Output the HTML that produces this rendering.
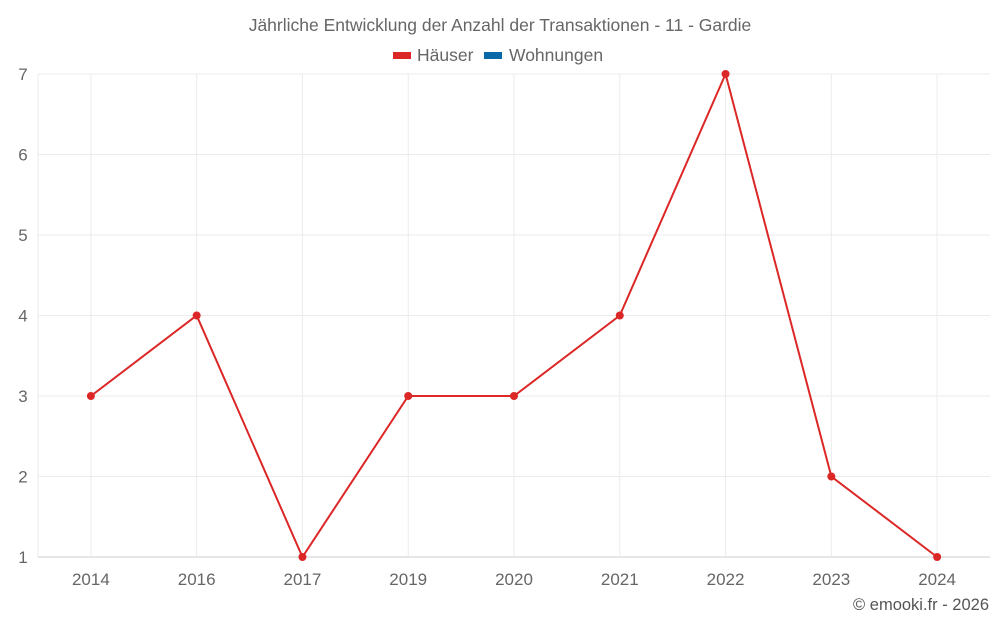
<!DOCTYPE html>
<html><head><meta charset="utf-8"><style>
body{margin:0;background:#fff;font-family:"Liberation Sans",sans-serif;}
svg text{font-family:"Liberation Sans",sans-serif;}
</style></head><body>
<svg width="1000" height="625" id="c">
<text x="500" y="31" text-anchor="middle" font-size="17.5" fill="#666">Jährliche Entwicklung der Anzahl der Transaktionen - 11 - Gardie</text>
<g><rect x="393" y="52" width="18" height="7" fill="#dc2727"/><text x="417" y="61" font-size="17.5" fill="#666">Häuser</text></g>
<g><rect x="484" y="52" width="18" height="7" fill="#0868a8"/><text x="509" y="61" font-size="17.5" fill="#666">Wohnungen</text></g>
<g id="grid"></g><g id="series"></g>
<text x="989" y="610" text-anchor="end" font-size="16.5" fill="#555">© emooki.fr - 2026</text>
</svg>
<script>
const categories=["2014","2016","2017","2019","2020","2021","2022","2023","2024"];
const haeuser=[3,4,1,3,3,4,7,2,1];
const yTicks=[1,2,3,4,5,6,7];
const NS="http://www.w3.org/2000/svg";
const L=38,R=990,T=74,B=557,yMin=1,yMax=7;
const bw=(R-L)/categories.length;
const x=i=>L+bw*(i+0.5);
const y=v=>B-(v-yMin)/(yMax-yMin)*(B-T);
function mk(t,a,p){const e=document.createElementNS(NS,t);for(const k in a)e.setAttribute(k,a[k]);p.appendChild(e);return e;}
const g=document.getElementById('grid'),s=document.getElementById('series');
yTicks.forEach(v=>{
 const l=mk('line',{x1:L,x2:R,y1:y(v),y2:y(v),stroke:v===yMin?'#ccc':'#ebebeb'},g);
 
 
 const t=mk('text',{x:L-15,y:y(v)+6,'text-anchor':'middle','font-size':17,fill:'#666'},g);t.textContent=v;
 
 
});
mk('line',{x1:L,x2:L,y1:T,y2:B,stroke:'#ebebeb'},g);
categories.forEach((c,i)=>{
 const l=mk('line',{x1:x(i),x2:x(i),y1:T,y2:B,stroke:'#ebebeb'},g);
 
 
 const t=mk('text',{x:x(i),y:585,'text-anchor':'middle','font-size':17,fill:'#666'},g);t.textContent=c;
 
 
});
const p=mk('polyline',{points:haeuser.map((v,i)=>x(i)+','+y(v)).join(' '),fill:'none',stroke:'#dc2727','stroke-width':2},s);


haeuser.forEach((v,i)=>{
 const c=mk('circle',{cx:x(i),cy:y(v),r:4,fill:'#dc2727'},s);
 
 
});
</script>
</body></html>
